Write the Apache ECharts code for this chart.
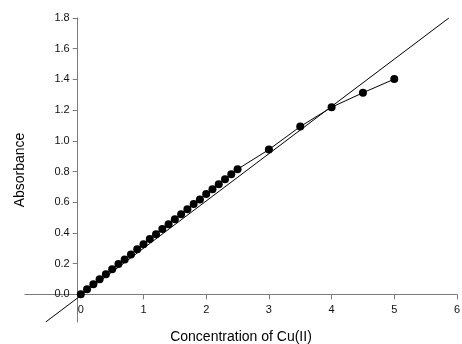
<!DOCTYPE html>
<html>
<head>
<meta charset="utf-8">
<script src="https://cdn.jsdelivr.net/npm/echarts@6/dist/echarts.min.js"></script>
<style>
  html, body { margin: 0; padding: 0; background: #fff; }
  #chart { width: 462px; height: 344px; }
</style>
</head>
<body>
<div id="chart"></div>
<script>
// measured points, Cu(II) concentration vs absorbance
var conc = [0, 0.1, 0.2, 0.3, 0.4, 0.5, 0.6, 0.7, 0.8, 0.9, 1.0,
            1.1, 1.2, 1.3, 1.4, 1.5, 1.6, 1.7, 1.8, 1.9, 2.0,
            2.1, 2.2, 2.3, 2.4, 2.5, 3.0, 3.5, 4.0, 4.5, 5.0];
var absorb = [0, 0.034, 0.066, 0.099, 0.131, 0.164, 0.197, 0.227, 0.26, 0.294, 0.326,
              0.36, 0.392, 0.425, 0.457, 0.49, 0.522, 0.555, 0.588, 0.618, 0.653,
              0.685, 0.718, 0.75, 0.782, 0.815, 0.943, 1.093, 1.219, 1.313, 1.402];
// straight reference line, ends
var fitX = [-0.56, 5.87];
var fitY = [-0.18, 1.8];

var xTicks = [1, 2, 3, 4, 5, 6];
var xLabels = [0, 1, 2, 3, 4, 5, 6];
var yTicks = [0, 0.2, 0.4, 0.6, 0.8, 1.0, 1.2, 1.4, 1.6, 1.8];

var pts = conc.map(function (c, i) { return [c, absorb[i]]; });
var fit = fitX.map(function (x, i) { return [x, fitY[i]]; });

var axisGray = '#7a7a7a';
var font = 'Liberation Sans, Arial, sans-serif';

var myChart = echarts.init(document.getElementById('chart'));
myChart.setOption({
    animation: false,
    grid: {left: 25, right: 5, top: 18, bottom: 22, containLabel: false, outerBoundsMode: 'none'},
    xAxis: {
        type: 'value',
        min: -0.89,
        max: 6,
        offset: -27.6,   // puts the axis line on y = 0
        name: 'Concentration of Cu(II)',
        nameLocation: 'middle',
        nameGap: 36,
        nameMoveOverlap: false,
        nameTextStyle: {fontFamily: font, fontSize: 14, color: '#000'},
        axisLine: {show: true, onZero: false, lineStyle: {color: axisGray, width: 1}},
        axisTick: {show: true, length: 5, customValues: xTicks, lineStyle: {color: axisGray}},
        axisLabel: {customValues: xLabels, margin: 10, fontFamily: font, fontSize: 11, color: '#111'},
        splitLine: {show: false}
    },
    yAxis: {
        type: 'value',
        min: -0.18,
        max: 1.8,
        offset: -52.7,   // y axis sits just left of x = 0
        name: 'Absorbance',
        nameLocation: 'middle',
        nameGap: 51,
        nameMoveOverlap: false,
        nameTextStyle: {fontFamily: font, fontSize: 14, color: '#000'},
        axisLine: {show: true, onZero: false, lineStyle: {color: axisGray, width: 1}},
        axisTick: {show: true, length: 5, customValues: yTicks, lineStyle: {color: axisGray}},
        axisLabel: {
            customValues: yTicks, margin: 8, fontFamily: font, fontSize: 11, color: '#111',
            formatter: function (v) { return v.toFixed(1); }
        },
        splitLine: {show: false}
    },
    series: [
        {
            type: 'line',
            data: fit,
            symbol: 'none',
            clip: true,
            lineStyle: {color: '#000', width: 1},
            z: 2
        },
        {
            type: 'line',
            data: pts,
            symbol: 'circle',
            symbolSize: 8,
            itemStyle: {color: '#000'},
            lineStyle: {color: '#000', width: 1},
            z: 3
        }
    ]
});
</script>
</body>
</html>
